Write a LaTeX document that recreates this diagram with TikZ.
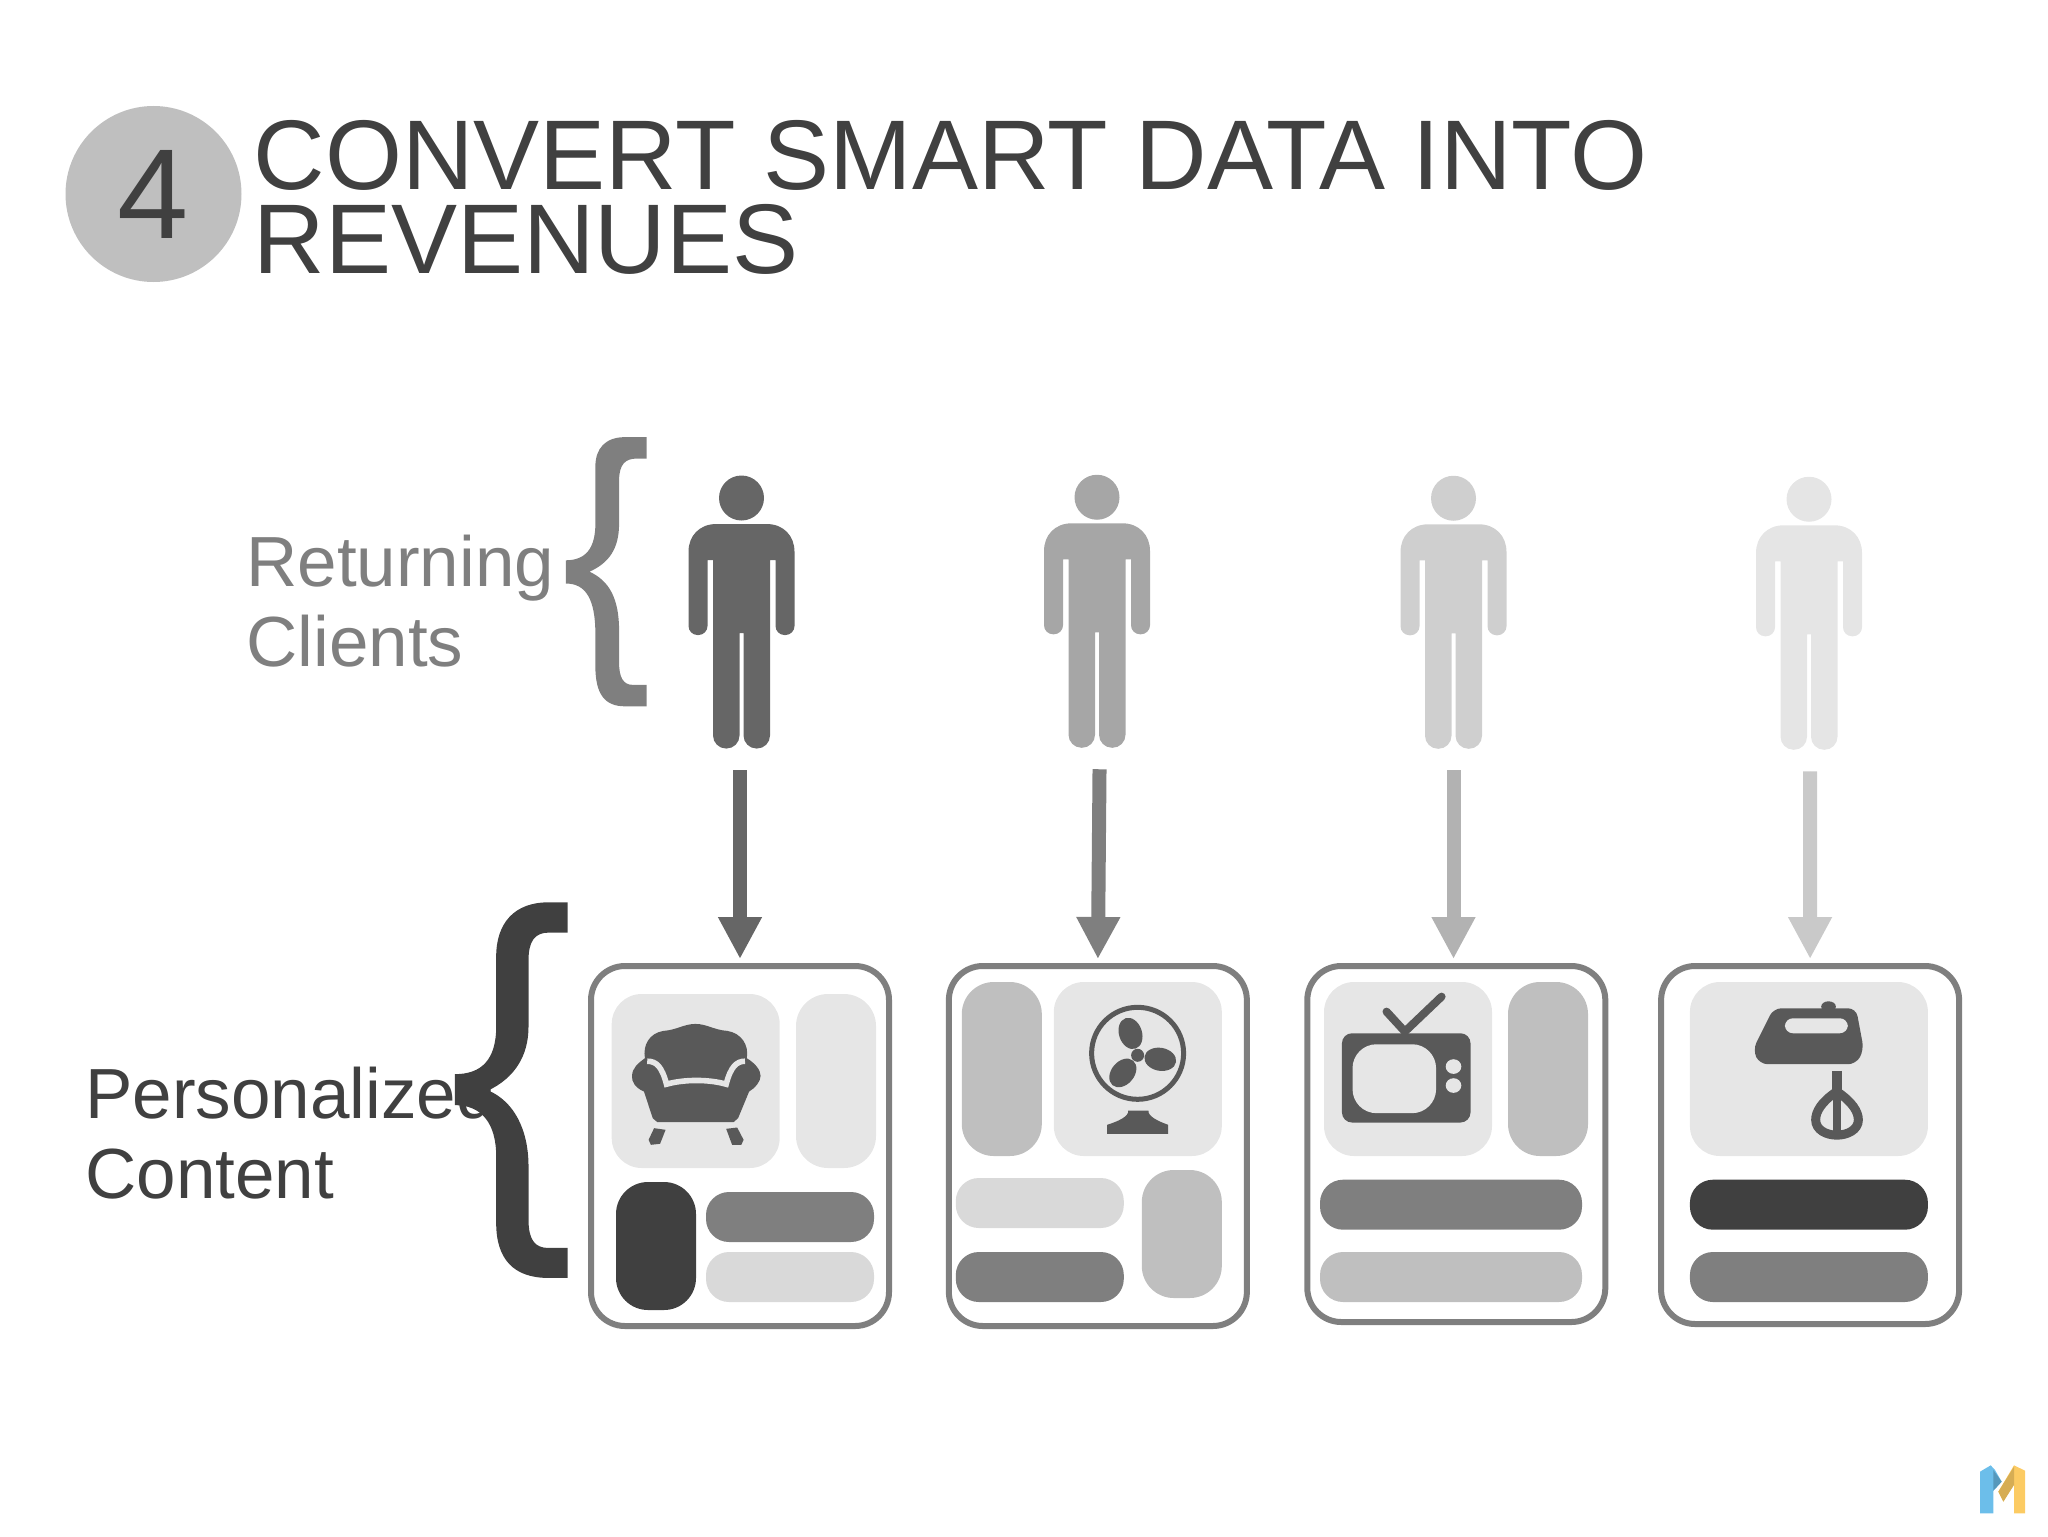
\documentclass[tikz,border=0pt]{standalone}
\usepackage{fontspec}
\setmainfont{Liberation Sans}
\usetikzlibrary{arrows.meta,positioning}

\definecolor{inkgrey}{HTML}{404040}
\definecolor{midgrey}{HTML}{7F7F7F}
\definecolor{softgrey}{HTML}{BFBFBF}
\definecolor{palegrey}{HTML}{D9D9D9}
\definecolor{tilegrey}{HTML}{E6E6E6}
\definecolor{icongrey}{HTML}{595959}
\definecolor{logoblue}{HTML}{6CBEEA}
\definecolor{logoyellow}{HTML}{FCCB63}

\tikzset{
    person/.pic={
        \fill [fill=#1] (0,-113.75) circle (22.5);
        \fill [fill=#1] (0,-87.75) -- (-25,-87.75) .. controls (-42,-87.75) and (-53,-76) .. (-53,-60) [rounded corners=4.5pt] -- (-53,23.25) -- (-34,23.25) [sharp corners] -- (-34,-51.75) -- (-28.5,-51.75) [rounded corners=6.5pt] -- (-28.5,136.75) -- (-2,136.75) [sharp corners] -- (-2,21.25) -- (2,21.25) [rounded corners=6.5pt] -- (2,136.75) -- (28.5,136.75) [sharp corners] -- (28.5,-51.75) -- (34,-51.75) [rounded corners=4.5pt] -- (34,23.25) -- (53,23.25) [sharp corners] -- (53,-60) .. controls (53,-76) and (42,-87.75) .. (25,-87.75) -- cycle;
        \node (-body) [minimum width=53pt, minimum height=136.75pt, inner sep=0pt, outer sep=0pt] at (0,0) {};
    }
}

\begin{document}
\begin{tikzpicture}[x=0.5pt, y=-0.5pt]

        % styles
        \tikzstyle{heading} = [anchor=base west, align=left, inner sep=0pt, text=inkgrey, font=\fontsize{49.5}{42}\selectfont]
        \tikzstyle{sidelabel} = [anchor=base west, align=left, inner sep=0pt, font=\fontsize{35.5}{40}\selectfont]
        \tikzstyle{card} = [rectangle, rounded corners=17pt, draw=midgrey, line width=3pt, outer sep=0pt, minimum width=149pt, inner sep=0pt]
        \tikzstyle{tile} = [rectangle, inner sep=0pt, outer sep=0pt, rounded corners=15pt]
        \tikzstyle{tall} = [tile, minimum width=40pt, rounded corners=16pt]
        \tikzstyle{bar} = [tile, minimum height=25pt, rounded corners=11.5pt]
        \tikzstyle{flow} = [line width=7pt, -{Triangle[length=21pt,width=20.5pt]}, shorten <=10.75pt, shorten >=3.5pt]
        \tikzstyle{icon} = [fill=icongrey]
        \tikzstyle{iconline} = [draw=icongrey, line cap=round]
        \tikzstyle{zoomA} = [shift={(560,950)}, xscale=0.459, yscale=0.333]
        \tikzstyle{zoomB} = [shift={(1280,950)}, xscale=0.459, yscale=0.333]

        \useasboundingbox (0,0) rectangle (2048,1536);

        % heading
        \node (number) [circle, fill=softgrey, text=inkgrey, minimum size=88pt, inner sep=0pt, font=\fontsize{64}{64}\selectfont] at (153.5,194) {4};
        \node (title) [heading] at (253.5,273) {CONVERT SMART DATA INTO\\REVENUES};

        % side labels
        \node (clients) [sidelabel, text=midgrey] at (246,666.4) {Returning\\Clients};
        \node (content) [sidelabel, text=inkgrey] at (85,1198) {Personalized\\Content};

        % braces
        \fill [midgrey, shift={(230,420)}, xscale=0.395, yscale=0.357] (1055,48) -- (1000,48) .. controls (950,48) and (925,80) .. (925,130) -- (925,290) .. controls (925,360) and (900,393) .. (850,393) -- (850,458) .. controls (900,458) and (925,500) .. (925,600) -- (925,690) .. controls (925,770) and (950,802) .. (1000,802) -- (1055,802) -- (1055,742) -- (1020,742) .. controls (995,742) and (985,720) .. (985,680) -- (985,590) .. controls (985,500) and (960,450) .. (910,425) .. controls (960,400) and (985,360) .. (985,290) -- (985,170) .. controls (985,125) and (1000,108) .. (1030,108) -- (1055,108) -- cycle;
        \fill [inkgrey, shift={(60,880)}, xscale=0.344, yscale=0.333] (1476,67) -- (1420,67) .. controls (1320,67) and (1268,130) .. (1268,230) -- (1268,440) .. controls (1268,540) and (1225,583) .. (1148,583) -- (1148,676) .. controls (1225,676) and (1268,730) .. (1268,830) -- (1268,1030) .. controls (1268,1140) and (1320,1195) .. (1420,1195) -- (1476,1195) -- (1476,1105) -- (1420,1105) .. controls (1380,1105) and (1362,1080) .. (1362,1020) -- (1362,860) .. controls (1362,750) and (1320,665) .. (1245,632) .. controls (1320,595) and (1362,530) .. (1362,440) -- (1362,240) .. controls (1362,185) and (1380,158) .. (1420,158) -- (1476,158) -- cycle;

        % clients
        \pic (person1) at (741.5,611.75) {person={black!60}};
        \pic (person2) at (1097,611) {person={black!35}};
        \pic (person3) at (1453.5,612) {person={black!19}};
        \pic (person4) at (1809,613) {person={black!10}};

        % cards
        \node (card1) [card, minimum height=180pt] at (740,1146) {};
        \node (card2) [card, minimum height=180pt] at (1097.85,1146) {};
        \node (card3) [card, minimum height=178pt] at (1456.3,1144) {};
        \node (card4) [card, minimum height=179pt] at (1810.1,1145) {};

        % tiles of card 1
        \node (tile1a) [tile, fill=tilegrey, minimum width=84pt, minimum height=87pt] at (695.7,1081) {};
        \node (tile1b) [tall, fill=tilegrey, minimum height=87pt] at (836,1081) {};
        \node (tile1c) [tall, fill=inkgrey, minimum height=64pt] at (656,1246) {};
        \node (tile1d) [bar, fill=midgrey, minimum width=84pt] at (790,1217) {};
        \node (tile1e) [bar, fill=palegrey, minimum width=84pt] at (790,1277) {};

        % tiles of card 2
        \node (tile2a) [tall, fill=softgrey, minimum height=87pt] at (1001.8,1069) {};
        \node (tile2b) [tile, fill=tilegrey, minimum width=84pt, minimum height=87pt] at (1137.8,1069) {};
        \node (tile2c) [bar, fill=palegrey, minimum width=84pt] at (1039.8,1203) {};
        \node (tile2d) [tall, fill=softgrey, minimum height=64pt] at (1181.8,1234) {};
        \node (tile2e) [bar, fill=midgrey, minimum width=84pt] at (1039.8,1277) {};

        % tiles of card 3
        \node (tile3a) [tile, fill=tilegrey, minimum width=84pt, minimum height=87pt] at (1408,1069) {};
        \node (tile3b) [tall, fill=softgrey, minimum height=87pt] at (1548,1069) {};
        \node (tile3c) [bar, fill=midgrey, minimum width=131pt] at (1451,1204.7) {};
        \node (tile3d) [bar, fill=softgrey, minimum width=131pt] at (1451,1277) {};

        % tiles of card 4
        \node (tile4a) [tile, fill=tilegrey, minimum width=119pt, minimum height=87pt] at (1808.9,1069) {};
        \node (tile4b) [bar, fill=inkgrey, minimum width=119pt] at (1808.9,1204.7) {};
        \node (tile4c) [bar, fill=midgrey, minimum width=119pt] at (1808.9,1277) {};

        % armchair
        \begin{scope}[zoomA]
            \fill [icon] (185,325) .. controls (180,285) and (195,250) .. (225,243) .. controls (255,240) and (270,222) .. (295,222) .. controls (320,222) and (335,240) .. (365,243) .. controls (395,250) and (412,285) .. (407,325) .. controls (425,340) and (437,360) .. (437,378) .. controls (437,395) and (425,415) .. (412,425) -- (388,505) -- (378,517) -- (212,517) -- (202,505) -- (183,425) .. controls (165,415) and (155,395) .. (157,378) .. controls (157,355) and (170,340) .. (185,325) -- cycle;
            \draw [draw=tilegrey, line width=2.8pt] (190,334) .. controls (210,334) and (222,350) .. (232,403) .. controls (270,388) and (325,388) .. (362,403) .. controls (372,350) and (385,334) .. (403,334);
            \fill [icon] (205,535) -- (230,540) -- (218,582) -- (198,585) -- (193,570) -- cycle;
            \fill [icon] (362,537) -- (386,533) -- (400,570) -- (395,585) -- (375,585) -- cycle;
        \end{scope}

        % fan
        \draw [iconline, line width=2.5pt] (1137.6,1053.3) circle (46);
        \fill [icon] (1137.6,1055.3) circle (6.5);
        \fill [icon, shift={(1137.6,1055.3)}, rotate=108] (23,0) ellipse (16 and 11.5);
        \fill [icon, shift={(1137.6,1055.3)}, rotate=-10] (23,0) ellipse (16 and 11.5);
        \fill [icon, shift={(1137.6,1055.3)}, rotate=-130] (23,0) ellipse (16 and 11.5);
        \fill [icon, zoomA] (1192,552) -- (1192,525) .. controls (1215,515) and (1240,500) .. (1238,482) -- (1282,482) .. controls (1280,500) and (1305,515) .. (1325,525) -- (1325,552) -- cycle;

        % television
        \begin{scope}[zoomB]
            \draw [iconline, line width=4pt] (232,185) -- (272,245) -- (352,140);
            \fill [icon, rounded corners=5pt] (135,250) rectangle (415,518);
            \fill [fill=tilegrey, rounded corners=12pt] (158,283) rectangle (340,490);
            \fill [fill=tilegrey] (378,350) ellipse (17 and 22);
            \fill [fill=tilegrey] (378,407) ellipse (17 and 22);
        \end{scope}

        % mixer
        \begin{scope}[zoomB]
            \fill [icon] (1195,170) ellipse (16 and 16);
            \fill [icon, rounded corners=4pt] (1075,175) -- (1255,175) -- (1272,300) -- (1255,343) -- (1045,343) -- (1030,300) -- cycle;
            \fill [fill=tilegrey, rounded corners=4pt] (1100,205) rectangle (1237,250);
            \draw [draw=icongrey, line width=5pt] (1213,363) -- (1213,430);
            \draw [draw=icongrey, line width=4pt] (1213,430) -- (1213,556);
            \draw [draw=icongrey, line width=4.5pt] (1213,425) .. controls (1180,455) and (1167,485) .. (1167,510) .. controls (1167,540) and (1190,556) .. (1213,556) .. controls (1236,556) and (1260,540) .. (1260,510) .. controls (1260,485) and (1246,455) .. (1213,425) -- cycle;
        \end{scope}

        % logo
        \begin{scope}[shift={(1940,1440)}, scale=0.3333]
            \fill [logoblue] (120,220) -- (120,95) -- (152,76) -- (165,90) -- (185,125) -- (160,152) -- (160,220) -- cycle;
            \fill [logoblue!80!black] (160,90) -- (185,125) -- (160,152) -- cycle;
            \fill [logoyellow] (175,155) -- (222,76) -- (255,92) -- (255,220) -- (222,220) -- (222,130) -- (190,185) -- cycle;
            \fill [logoyellow!85!black] (175,155) -- (222,80) -- (222,135) -- (190,185) -- cycle;
        \end{scope}

        % connectors
        \draw [flow, draw=black!60, fill=black!60] ([xshift=-0.75pt]person1-body.south) -- (card1.north);
        \draw [flow, draw=midgrey, fill=midgrey] ([xshift=1.35pt]person2-body.south) -- (card2.north);
        \draw [flow, draw=black!30, fill=black!30] (person3-body.south) -- ([xshift=-1.4pt]card3.north);
        \draw [flow, draw=black!21, fill=black!21] ([xshift=0.5pt]person4-body.south) -- (card4.north);

    \end{tikzpicture}
\end{document}
